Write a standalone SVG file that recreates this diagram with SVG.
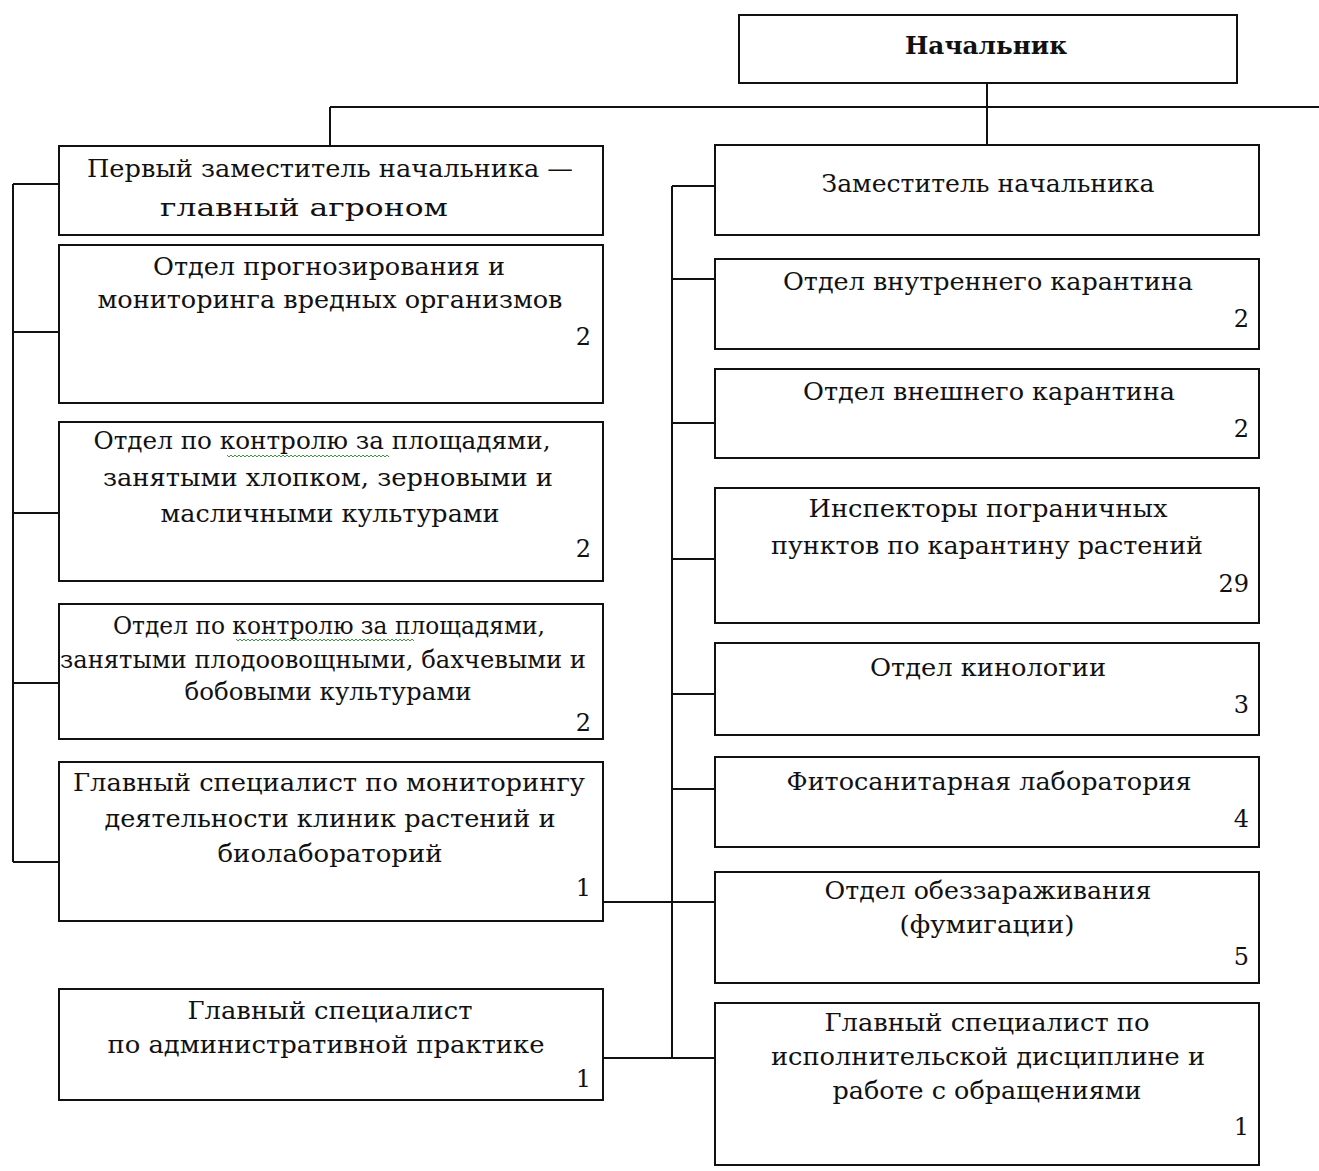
<svg xmlns="http://www.w3.org/2000/svg" width="1319" height="1171" viewBox="0 0 1319 1171">
<style>
  .box { fill: #ffffff; stroke: #111111; stroke-width: 2; }
  .ln { fill: none; stroke: #111111; stroke-width: 2; }
  .t { font-family: "DejaVu Serif", "Liberation Serif", serif; font-size: 24px; fill: #111111; text-anchor: middle; }
  .n { font-family: "DejaVu Serif", "Liberation Serif", serif; font-size: 24px; fill: #111111; text-anchor: end; }
  .b { font-weight: bold; }
  .wavy { fill: none; stroke: #3a9a3a; stroke-width: 1; }
</style>
<rect x="0" y="0" width="1319" height="1171" fill="#ffffff"/>
<g id="connectors">
  <path class="ln" d="M987 83 V146"/>
  <path class="ln" d="M330 107 H1319"/>
  <path class="ln" d="M330 107 V146"/>
  <path class="ln" d="M13 184 V862"/>
  <path class="ln" d="M13 184 H59 M13 332 H59 M13 513 H59 M13 683 H59 M13 862 H59"/>
  <path class="ln" d="M672 186 V1058"/>
  <path class="ln" d="M672 186 H715 M672 279 H715 M672 423 H715 M672 559 H715 M672 694 H715 M672 789 H715"/>
  <path class="ln" d="M603 902 H715 M603 1058 H715"/>
</g>
<g id="chief">
  <rect class="box" x="739" y="15" width="498" height="68"/>
  <text class="t b" x="986" y="54" textLength="162" lengthAdjust="spacingAndGlyphs">Начальник</text>
</g>
<g id="first-deputy">
  <rect class="box" x="59" y="146" width="544" height="89"/>
  <text class="t" x="330" y="177" textLength="486" lengthAdjust="spacingAndGlyphs">Первый заместитель начальника —</text>
  <text class="t" x="304" y="216" textLength="288" lengthAdjust="spacingAndGlyphs">главный агроном</text>
</g>
<g id="dept-forecast">
  <rect class="box" x="59" y="245" width="544" height="158"/>
  <text class="t" x="329" y="275" textLength="352" lengthAdjust="spacingAndGlyphs">Отдел прогнозирования и</text>
  <text class="t" x="330" y="308" textLength="465" lengthAdjust="spacingAndGlyphs">мониторинга вредных организмов</text>
  <text class="n" x="591" y="345">2</text>
</g>
<g id="dept-cotton">
  <rect class="box" x="59" y="422" width="544" height="159"/>
  <text class="t" x="322" y="449" textLength="457" lengthAdjust="spacingAndGlyphs">Отдел по контролю за площадями,</text>
  <path class="wavy" d="M227 455 l2 2 l2 -2 l2 2 l2 -2 l2 2 l2 -2 l2 2 l2 -2 l2 2 l2 -2 l2 2 l2 -2 l2 2 l2 -2 l2 2 l2 -2 l2 2 l2 -2 l2 2 l2 -2 l2 2 l2 -2 l2 2 l2 -2 l2 2 l2 -2 l2 2 l2 -2 l2 2 l2 -2 l2 2 l2 -2 l2 2 l2 -2 l2 2 l2 -2 l2 2 l2 -2 l2 2 l2 -2 l2 2 l2 -2 l2 2 l2 -2 l2 2 l2 -2 l2 2 l2 -2 l2 2 l2 -2 l2 2 l2 -2 l2 2 l2 -2 l2 2 l2 -2 l2 2 l2 -2 l2 2 l2 -2 l2 2 l2 -2 l2 2 l2 -2 l2 2 l2 -2 l2 2 l2 -2 l2 2 l2 -2 l2 2 l2 -2 l2 2 l2 -2 l2 2 l2 -2 l2 2 l2 -2 l2 2 l2 -2 l2 2"/>
  <text class="t" x="328" y="486" textLength="450" lengthAdjust="spacingAndGlyphs">занятыми хлопком, зерновыми и</text>
  <text class="t" x="330" y="522" textLength="339" lengthAdjust="spacingAndGlyphs">масличными культурами</text>
  <text class="n" x="591" y="557">2</text>
</g>
<g id="dept-fruit">
  <rect class="box" x="59" y="604" width="544" height="135"/>
  <text class="t" x="329" y="634" textLength="432" lengthAdjust="spacingAndGlyphs">Отдел по контролю за площадями,</text>
  <path class="wavy" d="M236 639 l2 2 l2 -2 l2 2 l2 -2 l2 2 l2 -2 l2 2 l2 -2 l2 2 l2 -2 l2 2 l2 -2 l2 2 l2 -2 l2 2 l2 -2 l2 2 l2 -2 l2 2 l2 -2 l2 2 l2 -2 l2 2 l2 -2 l2 2 l2 -2 l2 2 l2 -2 l2 2 l2 -2 l2 2 l2 -2 l2 2 l2 -2 l2 2 l2 -2 l2 2 l2 -2 l2 2 l2 -2 l2 2 l2 -2 l2 2 l2 -2 l2 2 l2 -2 l2 2 l2 -2 l2 2 l2 -2 l2 2 l2 -2 l2 2 l2 -2 l2 2 l2 -2 l2 2 l2 -2 l2 2 l2 -2 l2 2 l2 -2 l2 2 l2 -2 l2 2 l2 -2 l2 2 l2 -2 l2 2 l2 -2 l2 2 l2 -2 l2 2 l2 -2 l2 2 l2 -2 l2 2 l2 -2 l2 2 l2 -2 l2 2 l2 -2 l2 2 l2 -2 l2 2 l2 -2 l2 2 l2 -2 l2 2"/>
  <text class="t" x="323" y="668" textLength="526" lengthAdjust="spacingAndGlyphs">занятыми плодоовощными, бахчевыми и</text>
  <text class="t" x="328" y="700" textLength="287" lengthAdjust="spacingAndGlyphs">бобовыми культурами</text>
  <text class="n" x="591" y="731">2</text>
</g>
<g id="chief-monitoring">
  <rect class="box" x="59" y="762" width="544" height="159"/>
  <text class="t" x="329" y="791" textLength="512" lengthAdjust="spacingAndGlyphs">Главный специалист по мониторингу</text>
  <text class="t" x="330" y="827" textLength="451" lengthAdjust="spacingAndGlyphs">деятельности клиник растений и</text>
  <text class="t" x="330" y="862" textLength="225" lengthAdjust="spacingAndGlyphs">биолабораторий</text>
  <text class="n" x="591" y="896">1</text>
</g>
<g id="chief-admin">
  <rect class="box" x="59" y="989" width="544" height="111"/>
  <text class="t" x="330" y="1019" textLength="285" lengthAdjust="spacingAndGlyphs">Главный специалист</text>
  <text class="t" x="326" y="1053" textLength="437" lengthAdjust="spacingAndGlyphs">по административной практике</text>
  <text class="n" x="591" y="1087">1</text>
</g>
<g id="deputy">
  <rect class="box" x="715" y="145" width="544" height="90"/>
  <text class="t" x="988" y="192" textLength="333" lengthAdjust="spacingAndGlyphs">Заместитель начальника</text>
</g>
<g id="dept-internal">
  <rect class="box" x="715" y="259" width="544" height="90"/>
  <text class="t" x="988" y="290" textLength="410" lengthAdjust="spacingAndGlyphs">Отдел внутреннего карантина</text>
  <text class="n" x="1249" y="327">2</text>
</g>
<g id="dept-external">
  <rect class="box" x="715" y="369" width="544" height="89"/>
  <text class="t" x="989" y="400" textLength="372" lengthAdjust="spacingAndGlyphs">Отдел внешнего карантина</text>
  <text class="n" x="1249" y="437">2</text>
</g>
<g id="border-inspectors">
  <rect class="box" x="715" y="488" width="544" height="135"/>
  <text class="t" x="988" y="517" textLength="359" lengthAdjust="spacingAndGlyphs">Инспекторы пограничных</text>
  <text class="t" x="987" y="554" textLength="432" lengthAdjust="spacingAndGlyphs">пунктов по карантину растений</text>
  <text class="n" x="1249" y="592">29</text>
</g>
<g id="dept-cynology">
  <rect class="box" x="715" y="643" width="544" height="92"/>
  <text class="t" x="988" y="676" textLength="236" lengthAdjust="spacingAndGlyphs">Отдел кинологии</text>
  <text class="n" x="1249" y="713">3</text>
</g>
<g id="phyto-lab">
  <rect class="box" x="715" y="757" width="544" height="90"/>
  <text class="t" x="989" y="790" textLength="405" lengthAdjust="spacingAndGlyphs">Фитосанитарная лаборатория</text>
  <text class="n" x="1249" y="827">4</text>
</g>
<g id="dept-fumigation">
  <rect class="box" x="715" y="872" width="544" height="111"/>
  <text class="t" x="988" y="899" textLength="327" lengthAdjust="spacingAndGlyphs">Отдел обеззараживания</text>
  <text class="t" x="987" y="933" textLength="175" lengthAdjust="spacingAndGlyphs">(фумигации)</text>
  <text class="n" x="1249" y="965">5</text>
</g>
<g id="chief-discipline">
  <rect class="box" x="715" y="1003" width="544" height="162"/>
  <text class="t" x="987" y="1031" textLength="325" lengthAdjust="spacingAndGlyphs">Главный специалист по</text>
  <text class="t" x="988" y="1065" textLength="434" lengthAdjust="spacingAndGlyphs">исполнительской дисциплине и</text>
  <text class="t" x="987" y="1099" textLength="309" lengthAdjust="spacingAndGlyphs">работе с обращениями</text>
  <text class="n" x="1249" y="1135">1</text>
</g>
</svg>
